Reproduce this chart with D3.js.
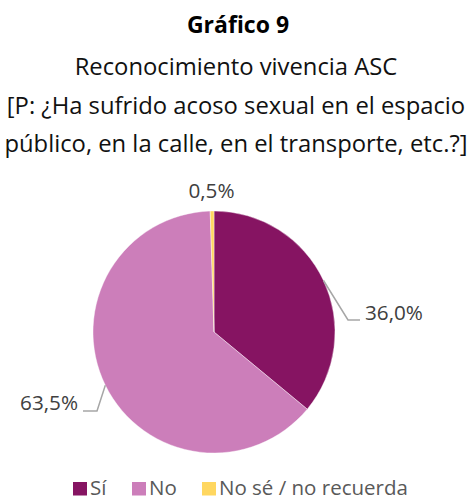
<!DOCTYPE html>
<html>
<head>
<meta charset="utf-8">
<script src="https://cdn.jsdelivr.net/npm/d3@7"></script>
<style>
  body { margin: 0; background: #fff; }
  svg { display: block; font-family: "Open Sans", sans-serif; }
</style>
</head>
<body>
<svg id="chart" width="470" height="501"></svg>
<script>
  // data
  var categories = ["Sí", "No", "No sé / no recuerda"];
  var values = [36.0, 63.5, 0.5];
  var valueLabels = ["36,0%", "63,5%", "0,5%"];
  var colors = ["#861462", "#cc7eba", "#ffd760"];

  var titleLines = [
    "Reconocimiento vivencia ASC",
    "[P: ¿Ha sufrido acoso sexual en el espacio",
    "público, en la calle, en el transporte, etc.?]"
  ];

  var svg = d3.select("#chart");
  var cx = 214, cy = 332, r = 121;

  // titles
  svg.append("text")
    .attr("x", 238).attr("y", 33)
    .attr("text-anchor", "middle")
    .attr("font-size", 23).attr("font-weight", "bold")
    .attr("fill", "#000")
    .text("Gráfico 9");

  svg.selectAll("text.sub")
    .data(titleLines)
    .enter().append("text")
    .attr("class", "sub")
    .attr("x", 236)
    .attr("y", function(d, i) { return 75 + i * 38.5; })
    .attr("text-anchor", "middle")
    .attr("font-size", 23.8)
    .attr("fill", "#111")
    .text(function(d) { return d; });

  var pie = d3.pie().sort(null).value(function(d) { return d; });
  var arcs = pie(values);
  var arc = d3.arc().innerRadius(0).outerRadius(r);

  var g = svg.append("g").attr("transform", "translate(" + cx + "," + cy + ")");

  g.selectAll("path")
    .data(arcs)
    .enter().append("path")
    .attr("d", arc)
    .attr("fill", function(d, i) { return colors[i]; })
    .attr("stroke", "#fff")
    .attr("stroke-width", 0.4);

  // label placement (relative to pie center): elbow, line end, text point
  var labelLayout = [
    { line: true, elbow: [134, -12], end: [146, -12], text: [151, -12], anchor: "start" },
    { line: true, elbow: [-117, 79], end: [-131, 79], text: [-136, 78], anchor: "end" },
    { line: false, text: [-2.5, -134], anchor: "middle" }
  ];

  arcs.forEach(function(d, i) {
    var mid = (d.startAngle + d.endAngle) / 2;
    var sx = Math.sin(mid) * r, sy = -Math.cos(mid) * r;
    var L = labelLayout[i];
    if (L.line) {
      g.append("polyline")
        .attr("points", [[sx, sy], L.elbow, L.end].map(function(p) { return p.join(","); }).join(" "))
        .attr("fill", "none")
        .attr("stroke", "#a6a6a6")
        .attr("stroke-width", 1.5);
    }
    g.append("text")
      .attr("x", L.text[0]).attr("y", L.text[1])
      .attr("text-anchor", L.anchor)
      .attr("font-size", 20.7)
      .attr("fill", "#404040")
      .text(valueLabels[i]);
  });

  // legend
  var legendX = [73, 132, 202];
  var leg = svg.selectAll("g.leg")
    .data(categories)
    .enter().append("g")
    .attr("class", "leg")
    .attr("transform", function(d, i) { return "translate(" + legendX[i] + ",482)"; });

  leg.append("rect")
    .attr("width", 14).attr("height", 13.5)
    .attr("fill", function(d, i) { return colors[i]; });

  leg.append("text")
    .attr("x", 17).attr("y", 13)
    .attr("font-size", 20.5)
    .attr("fill", "#595959")
    .text(function(d) { return d; });
</script>
</body>
</html>
